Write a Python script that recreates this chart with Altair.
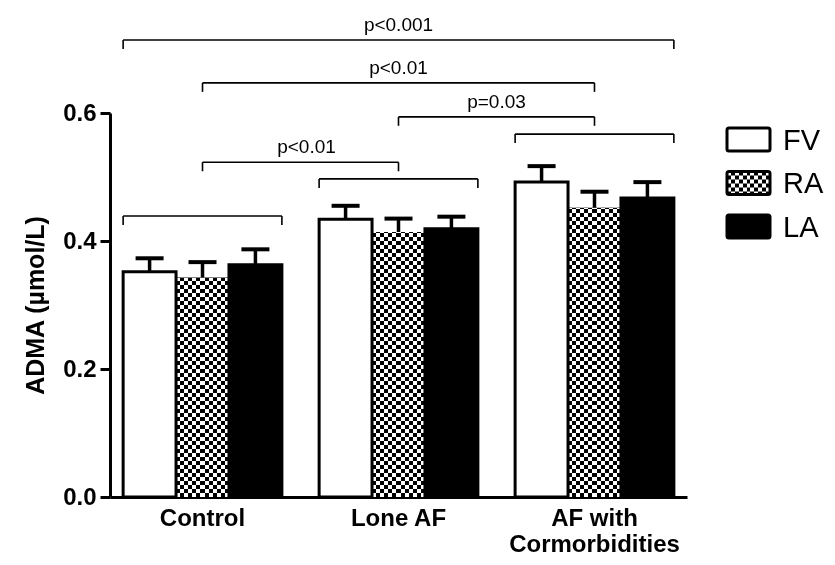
import altair as alt
import pandas as pd

# ---------------- data ----------------
groups = ["Control", "Lone AF", "AF with Cormorbidities"]
series_names = ["FV", "RA", "LA"]

fv_mean = [0.352, 0.434, 0.492]
ra_mean = [0.343, 0.414, 0.452]
la_mean = [0.363, 0.419, 0.467]
fv_sem = [0.021, 0.021, 0.025]
ra_sem = [0.024, 0.021, 0.025]
la_sem = [0.024, 0.019, 0.025]

y_ticks = [0.0, 0.2, 0.4, 0.6]

br_from = ["Control", "Lone AF", "AF with Cormorbidities", "Control", "Lone AF", "Control", "Control"]
br_to = ["Control", "Lone AF", "AF with Cormorbidities", "Lone AF", "AF with Cormorbidities",
         "AF with Cormorbidities", "AF with Cormorbidities"]
br_level = [0.439, 0.497, 0.567, 0.523, 0.594, 0.647, 0.714]
br_label = ["", "", "", "p<0.01", "p=0.03", "p<0.01", "p<0.001"]
br_kind = ["edge", "edge", "edge", "center", "center", "center", "edge"]

# ---------------- layout / style ----------------
W, H = 577, 384
PI, PO = 0.19, 0.067
STEP = W / (3 - PI + 2 * PO)
SUB = STEP * (1 - PI) / 3
CELL = 4
TICK = 0.014
FONT = "Liberation Sans"

rows = []
for s, m, e in zip(series_names, [fv_mean, ra_mean, la_mean], [fv_sem, ra_sem, la_sem]):
    for g, mv, ev in zip(groups, m, e):
        rows.append({"group": g, "series": s, "mean": mv, "sem": ev})
bars = pd.DataFrame(rows)

brk = pd.DataFrame({"from": br_from, "to": br_to, "level": br_level,
                    "label": br_label, "kind": br_kind})

x_scale = alt.Scale(domain=groups, paddingInner=PI, paddingOuter=PO)
xo_scale = alt.Scale(domain=series_names, paddingInner=0, paddingOuter=0)
y_scale = alt.Scale(domain=[0, 0.6], nice=False, zero=True)

x_axis = alt.Axis(
    labelFont=FONT, labelFontSize=24, labelFontWeight="bold", labelColor="black",
    labelAngle=0, ticks=False, domainWidth=3, domainColor="black", labelPadding=9,
    labelLineHeight=26, grid=False,
    labelExpr="datum.value == 'AF with Cormorbidities' ? ['AF with', 'Cormorbidities'] : datum.label",
)
y_axis = alt.Axis(
    values=y_ticks, format=".1f", labelFont=FONT, labelFontSize=24, labelFontWeight="bold",
    labelColor="black", tickSize=10, tickWidth=3, tickColor="black", domainWidth=3,
    domainColor="black", labelPadding=4, grid=False,
    titleFont=FONT, titleFontSize=25, titleFontWeight="bold", titleColor="black", titlePadding=14,
)
YT = "ADMA (µmol/L)"


def X(field="group:N", **kw):
    return alt.X(field, scale=x_scale, sort=groups, axis=x_axis, title=None, **kw)


def Y(field="mean:Q"):
    return alt.Y(field, scale=y_scale, axis=y_axis, title=YT)


XO = alt.XOffset("series:N", scale=xo_scale, sort=series_names)


def stripes(n):
    stops = []
    for i in range(n):
        c = "white" if i % 2 == 0 else "black"
        stops.append(alt.GradientStop(offset=i / n, color=c))
        stops.append(alt.GradientStop(offset=(i + 1) / n, color=c))
    return alt.LinearGradient(gradient="linear", stops=stops, x1=0, x2=1, y1=0, y2=0)


base = alt.Chart(bars).transform_calculate(upper="datum.mean + datum.sem", zero="0")

fill_layer = base.mark_bar(strokeWidth=0).encode(
    x=X(), xOffset=XO, y=Y(),
    fill=alt.Fill("series:N", scale=alt.Scale(domain=series_names, range=["white", "white", "black"]),
                  legend=None),
)
ra = base.transform_filter(alt.datum.series == "RA")
ra_h = ra.mark_rule(strokeWidth=SUB, strokeDash=[CELL, CELL], color="black").encode(
    x=X(), xOffset=XO, y=Y("zero:Q"), y2="mean:Q"
)
ra_v = ra.mark_bar(fill=stripes(round(SUB / CELL)), blend="difference", strokeWidth=0).encode(
    x=X(), xOffset=XO, y=Y()
)
outline = base.transform_filter(alt.datum.series != "RA").mark_bar(
    fillOpacity=0, stroke="black", strokeWidth=3
).encode(x=X(), xOffset=XO, y=Y())
stem = base.mark_rule(strokeWidth=3.5, color="black").encode(
    x=X(), xOffset=XO, y=Y(), y2="upper:Q"
)
cap = base.mark_tick(thickness=4, size=28, color="black", orient="horizontal", opacity=1).encode(
    x=X(), xOffset=XO, y=Y("upper:Q")
)

layers = [fill_layer, ra_h, ra_v, outline, stem, cap]

# ---------------- significance brackets ----------------
bp = {"edge": (0.0, 1.0), "center": (0.5, 0.5)}
for kind, (b0, b1) in bp.items():
    d = alt.Chart(brk).transform_filter(alt.datum.kind == kind).transform_calculate(
        low=f"datum.level - {TICK}"
    )
    layers.append(d.mark_rule(strokeWidth=1.6, color="black").encode(
        x=X("from:N", bandPosition=b0), x2=alt.X2("to:N", bandPosition=b1), y=Y("level:Q")))
    layers.append(d.mark_rule(strokeWidth=1.6, color="black").encode(
        x=X("from:N", bandPosition=b0), y=Y("level:Q"), y2="low:Q"))
    layers.append(d.mark_rule(strokeWidth=1.6, color="black").encode(
        x=X("to:N", bandPosition=b1), y=Y("level:Q"), y2="low:Q"))

for i, lab in enumerate(br_label):
    if not lab:
        continue
    span = groups.index(br_to[i]) - groups.index(br_from[i])
    one = brk.iloc[[i]]
    layers.append(alt.Chart(one).mark_text(
        font=FONT, fontSize=19, color="black", baseline="alphabetic", align="center",
        dy=-9, dx=span * STEP / 2 + (6 if span == 1 and i == 3 else 0),
    ).encode(x=X("from:N", bandPosition=0.5), y=Y("level:Q"), text="label:N"))

# ---------------- legend ----------------
LX0, LX1, LH, LTX = 617, 660, 23, 673
LYC = [26.5, 70, 113.5]
for s, yc in zip(series_names, LYC):
    one = alt.Chart(pd.DataFrame({"name": [s]}))
    pos = dict(x=alt.value(LX0), x2=alt.value(LX1), y=alt.value(yc - LH / 2), y2=alt.value(yc + LH / 2))
    fillc = {"FV": "white", "RA": "white", "LA": "black"}[s]
    layers.append(one.mark_rect(fill=fillc, strokeWidth=0).encode(**pos))
    if s == "RA":
        layers.append(one.mark_rule(strokeWidth=LX1 - LX0, strokeDash=[CELL, CELL], color="black").encode(
            x=alt.value((LX0 + LX1) / 2), y=alt.value(yc - LH / 2), y2=alt.value(yc + LH / 2)))
        layers.append(one.mark_rect(fill=stripes(round((LX1 - LX0) / CELL)), blend="difference",
                                    strokeWidth=0).encode(**pos))
    layers.append(one.mark_rect(fillOpacity=0, stroke="black", strokeWidth=3, cornerRadius=2).encode(**pos))
    layers.append(one.mark_text(font=FONT, fontSize=29, color="black", align="left",
                                baseline="middle", dy=1).encode(
        x=alt.value(LTX), y=alt.value(yc), text="name:N"))

chart = alt.layer(*layers).properties(
    width=W, height=H,
    padding={"left": 102, "top": 105, "right": 140, "bottom": 60},
    autosize=alt.AutoSizeParams(type="none"),
    background="white",
).configure_view(stroke=None)

chart.save("out.html", embed_options={"renderer": "svg", "actions": False})
